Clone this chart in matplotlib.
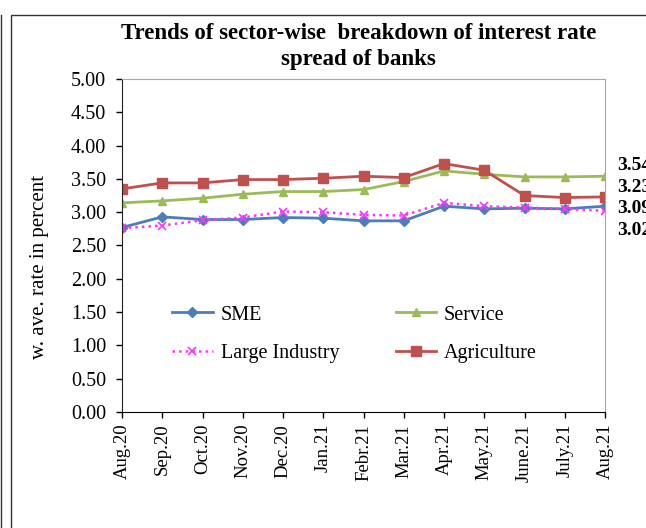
import matplotlib.pyplot as plt
from matplotlib.patches import Rectangle

months = ['Aug.20', 'Sep.20', 'Oct.20', 'Nov.20', 'Dec.20', 'Jan.21', 'Febr.21',
          'Mar.21', 'Apr.21', 'May.21', 'June.21', 'July.21', 'Aug.21']

sme = [2.77, 2.93, 2.89, 2.89, 2.92, 2.91, 2.87, 2.87, 3.09, 3.05, 3.06, 3.05, 3.09]
service = [3.14, 3.17, 3.21, 3.27, 3.31, 3.31, 3.34, 3.46, 3.62, 3.57, 3.53, 3.53, 3.54]
large_industry = [2.76, 2.80, 2.88, 2.92, 3.01, 3.00, 2.96, 2.95, 3.14, 3.09, 3.07, 3.05, 3.02]
agriculture = [3.35, 3.44, 3.44, 3.49, 3.49, 3.51, 3.54, 3.52, 3.73, 3.63, 3.25, 3.22, 3.23]

plt.rcParams['font.family'] = ['Liberation Serif', 'DejaVu Serif']

fig = plt.figure(figsize=(6.46, 5.28), dpi=100)
ax = fig.add_axes([122/646, 1 - 412/528, (605 - 122)/646, (412 - 79)/528])

x = range(len(months))
l_sme, = ax.plot(x, sme, color='#4A7EBB', lw=2, marker='D', ms=5, label='SME')
l_srv, = ax.plot(x, service, color='#9BBB59', lw=2, marker='^', ms=6, label='Service')
l_li, = ax.plot(x, large_industry, color='#FF33FF', lw=1.8, ls=':', marker='x', ms=6,
                mew=1.2, label='Large Industry')
l_agr, = ax.plot(x, agriculture, color='#C0504D', lw=2, marker='s', ms=6.5, label='Agriculture')

ax.set_xlim(0, len(months) - 1)
ax.set_ylim(0, 5)
ax.set_yticks([i * 0.5 for i in range(11)])
ax.set_yticklabels(['%.2f' % (i * 0.5) for i in range(11)], fontsize=14.5)
ax.set_xticks(list(x))
ax.set_xticklabels(months, rotation=90, fontsize=13.5)
ax.tick_params(axis='both', direction='out', length=4, width=1, color='black')
ax.tick_params(axis='y', pad=7.5)
ax.tick_params(axis='x', pad=4.5)
ax.set_ylabel('w. ave. rate in percent', fontsize=15, labelpad=16, y=0.435)

ax.spines['left'].set_linestyle((0, (2, 1)))
ax.spines['left'].set_color('#222222')
ax.spines['bottom'].set_color('black')
for s in ('top', 'right'):
    ax.spines[s].set_color('#A6A6A6')

# end-of-period values listed to the right of the plot
last = len(months) - 1
label_offsets = [(service[-1], 8), (agriculture[-1], 6.5), (sme[-1], -1.5), (large_industry[-1], -14)]
for val, dy in label_offsets:
    ax.annotate('%.2f' % val, xy=(last, val), xytext=(9, dy), textcoords='offset points',
                fontsize=14, fontweight='bold', va='center', ha='left', annotation_clip=False)

# row order: SME, Service / Large Industry, Agriculture
ax.legend([l_sme, l_li, l_srv, l_agr], ['SME', 'Large Industry', 'Service', 'Agriculture'],
          ncol=2, frameon=False, fontsize=14.5, loc='upper left',
          bbox_to_anchor=(0.104, 0.32), borderpad=0, borderaxespad=0,
          columnspacing=2.8, handlelength=2.0, labelspacing=0.95, handletextpad=0.4)

fig.text(0.555, 1 - 46.5/528, 'Trends of sector-wise  breakdown of interest rate\nspread of banks',
         ha='center', va='center', fontsize=16.5, fontweight='bold', linespacing=1.35)

# chart border
fig.patches.append(Rectangle((11/646, -0.1), 1, 1 - 15/528 + 0.1, transform=fig.transFigure,
                             fill=False, edgecolor='#333333', lw=1))
fig.lines.append(plt.Line2D([1/646, 1/646], [0, 1 - 15/528], transform=fig.transFigure,
                            color='#333333', lw=1))

fig.savefig('out.png', dpi=100)
